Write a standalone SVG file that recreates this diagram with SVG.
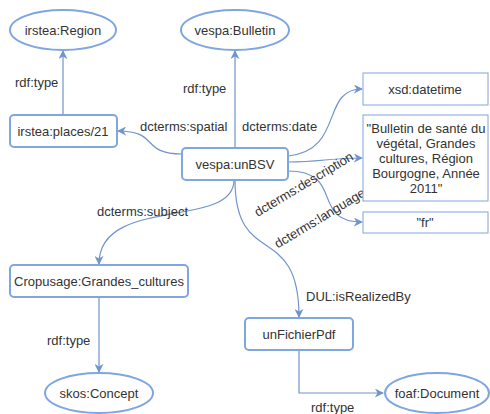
<svg xmlns="http://www.w3.org/2000/svg" width="490" height="414" viewBox="0 0 490 414">
<style>
.n{fill:#fff;stroke:#7ea6e0;stroke-width:2}
.lit{fill:#fff;stroke:#7ea6e0;stroke-width:1}
.e{fill:none;stroke:#7094cc;stroke-width:1.2}
text{font-family:"Liberation Sans",Arial,sans-serif;font-size:13px;fill:#333}
.c{text-anchor:middle}
</style>
<defs>
<marker id="ar" viewBox="0 0 10 10" refX="9" refY="5" markerWidth="9" markerHeight="9" markerUnits="userSpaceOnUse" orient="auto">
<path d="M0,0 L10,5 L0,10 L3,5 Z" fill="#7094cc"/>
</marker>
</defs>
<rect width="490" height="414" fill="#fff"/>
<g id="connectors">
<path class="e" d="M63,115 V51" marker-end="url(#ar)"/>
<path class="e" d="M235,148 V51" marker-end="url(#ar)"/>
<path class="e" d="M182,154 C140,154 160,131 118,131" marker-end="url(#ar)"/>
<path class="e" d="M288,156 C345,150 320,89 362,89" marker-end="url(#ar)"/>
<path class="e" d="M288,162 C320,162 330,158 362,158" marker-end="url(#ar)"/>
<path class="e" d="M288,171 C345,171 310,222 362,222" marker-end="url(#ar)"/>
<path class="e" d="M234,180 C234,230 99,195 99,264" marker-end="url(#ar)"/>
<path class="e" d="M235,180 C235,270 299,220 299,317" marker-end="url(#ar)"/>
<path class="e" d="M99,297 V372" marker-end="url(#ar)"/>
<path class="e" d="M299,350 V393 H383" marker-end="url(#ar)"/>
<text x="15" y="87">rdf:type</text>
<text x="183" y="93">rdf:type</text>
<text x="140" y="131">dcterms:spatial</text>
<text x="242" y="131">dcterms:date</text>
<text class="c" transform="translate(306,188) rotate(-31)">dcterms:description</text>
<text class="c" transform="translate(322,222) rotate(-31)">dcterms:language</text>
<text x="97" y="216">dcterms:subject</text>
<text x="306" y="301">DUL:isRealizedBy</text>
<text x="47" y="345">rdf:type</text>
<text x="311" y="412">rdf:type</text>
</g>
<g id="irstea-Region"><ellipse class="n" cx="63" cy="30" rx="53" ry="20"/><text class="c" x="63" y="34.5">irstea:Region</text></g>
<g id="vespa-Bulletin"><ellipse class="n" cx="235" cy="30" rx="54" ry="20"/><text class="c" x="235" y="34.5">vespa:Bulletin</text></g>
<g id="irstea-places21"><rect class="n" x="10" y="115" width="107" height="32" rx="4"/><text class="c" x="63" y="135.5">irstea:places/21</text></g>
<g id="vespa-unBSV"><rect class="n" x="182" y="148" width="106" height="32" rx="4"/><text class="c" x="235" y="168.5">vespa:unBSV</text></g>
<g id="xsd-datetime"><rect class="lit" x="363" y="73" width="125" height="32"/><text class="c" x="425" y="93.5">xsd:datetime</text></g>
<g id="description"><rect class="lit" x="363" y="115" width="125" height="86"/>
<text class="c" x="426" y="132.5">"Bulletin de santé du</text>
<text class="c" x="426" y="147.5">végétal, Grandes</text>
<text class="c" x="426" y="162.5">cultures, Région</text>
<text class="c" x="426" y="177.5">Bourgogne, Année</text>
<text class="c" x="426" y="192.5">2011"</text></g>
<g id="fr"><rect class="lit" x="363" y="212" width="125" height="21"/><text class="c" x="425" y="227">"fr"</text></g>
<g id="cropusage"><rect class="n" x="10" y="265" width="178" height="32" rx="4"/><text class="c" x="99" y="285.5">Cropusage:Grandes_cultures</text></g>
<g id="skos-Concept"><ellipse class="n" cx="99" cy="393" rx="54" ry="20"/><text class="c" x="99" y="397.5">skos:Concept</text></g>
<g id="unFichierPdf"><rect class="n" x="245" y="318" width="108" height="32" rx="4"/><text class="c" x="299" y="338.5">unFichierPdf</text></g>
<g id="foaf-Document"><ellipse class="n" cx="437" cy="393" rx="52" ry="20"/><text class="c" x="437" y="397.5">foaf:Document</text></g>
</svg>
